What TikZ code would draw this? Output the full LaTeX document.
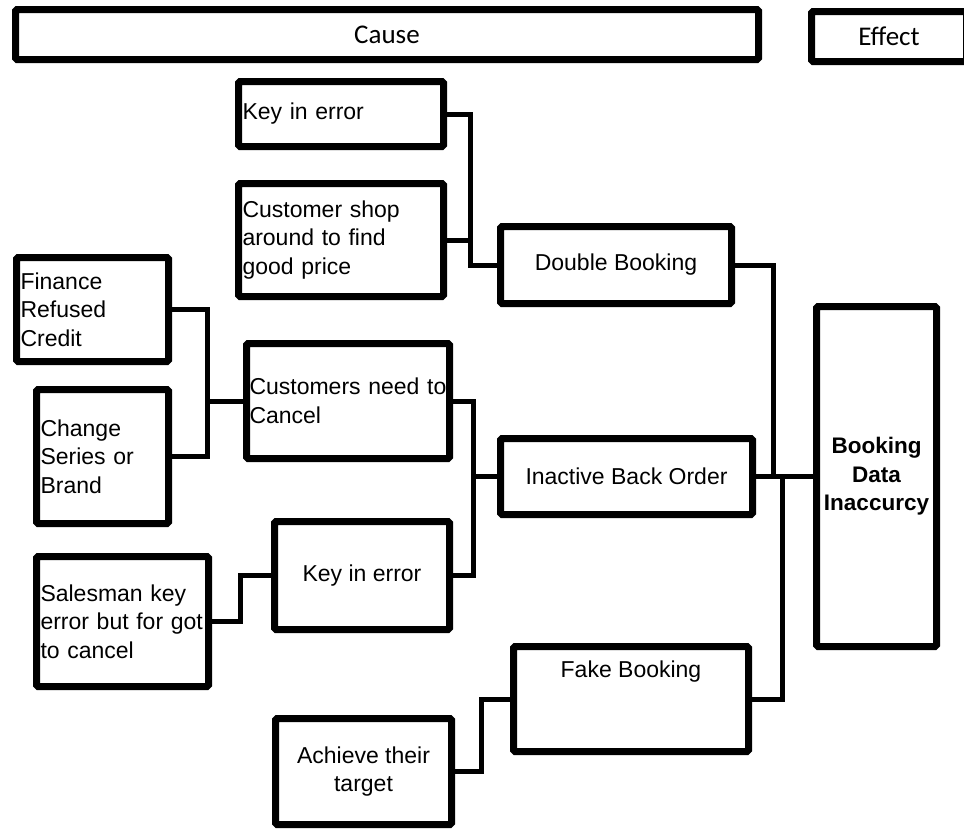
\documentclass[tikz,border=0pt]{standalone}
\usepackage{fontspec}
\setmainfont{Liberation Sans}
\newfontfamily\headfont{Carlito}
\begin{document}
\begin{tikzpicture}[x=1pt,y=-1pt,
  box/.style={draw=black,line width=7pt,rounded corners=1.5pt,inner sep=0pt,fill=white,
              font=\fontsize{23}{28.5}\selectfont},
  lbox/.style={box,align=left,inner xsep=4pt},
  cbox/.style={box,align=center},
  headbox/.style={box,font=\headfont\fontsize{27}{30}\selectfont},
  conn/.style={line width=5pt,line join=miter,line cap=rect}]
\useasboundingbox (0,0) rectangle (964,830);

% header boxes
\node[headbox,minimum width=743pt,minimum height=50pt] (cause) at (387,34.5) {Cause};
\node[headbox,minimum width=155pt,minimum height=50pt] (effect) at (889,36.5) {Effect};

% causes and sub-causes
\node[lbox,minimum width=205pt,minimum height=65pt,text width=197pt] (k1) at (341,114) {Key in error};
\node[lbox,minimum width=205pt,minimum height=113pt,text width=197pt] (shop) at (341,240)
  {Customer shop\\around to find\\good price};
\node[cbox,minimum width=231pt,minimum height=77pt] (dbl) at (616,265) {Double Booking};

\node[lbox,minimum width=152pt,minimum height=104pt,text width=144pt] (fin) at (92.5,309.5)
  {Finance\\Refused\\Credit};
\node[lbox,minimum width=132pt,minimum height=134pt,text width=124pt] (chg) at (102.5,456.5)
  {Change\\Series or\\Brand};
\node[lbox,minimum width=203pt,minimum height=115pt,inner xsep=3pt,text width=197pt] (cust) at (348,401)
  {Customers need to\\Cancel};
\node[cbox,minimum width=252pt,minimum height=76pt] (iba) at (626.5,476.5) {Inactive Back Order};

\node[lbox,minimum width=172pt,minimum height=130pt,text width=164pt] (sal) at (122.5,621.5)
  {Salesman key\\error but for got\\to cancel};
\node[cbox,minimum width=175pt,minimum height=108pt] (k2) at (362,575.5) {Key in error};

\node[box,minimum width=235pt,minimum height=105pt] (fake) at (631,699) {};
\node[font=\fontsize{23}{28.5}\selectfont,inner sep=0pt] (faketext) at (631,672) {Fake Booking};
\node[cbox,minimum width=176pt,minimum height=106pt] (ach) at (363.5,771.5) {Achieve their\\target};

% effect
\node[cbox,minimum width=120pt,minimum height=340pt,
      font=\bfseries\fontsize{22.5}{28.5}\selectfont] (bdi) at (876.5,476.5) {Booking\\Data\\Inaccurcy};

% junction columns
\coordinate (j1) at (470,0);
\coordinate (j2) at (207,0);
\coordinate (j3) at (473,0);
\coordinate (j4) at (240,0);
\coordinate (j5) at (481,0);
\coordinate (j6) at (773,0);
\coordinate (j7) at (782,0);

% connectors
\draw[conn] (k1.east) -| (j1|-dbl.west) -- (dbl.west);
\draw[conn] (shop.east) -- (j1|-shop.east);

\draw[conn] (fin.east) -| (j2|-chg.east) -- (chg.east);
\draw[conn] (j2|-cust.west) -- (cust.west);

\draw[conn] (cust.east) -| (j3|-k2.east) -- (k2.east);
\draw[conn] (j3|-iba.west) -- (iba.west);

\draw[conn] (sal.east) -| (j4|-k2.west) -- (k2.west);

\draw[conn] (ach.east) -| (j5|-fake.west) -- (fake.west);

\draw[conn] (dbl.east) -| (j6|-bdi.west) -- (bdi.west);
\draw[conn] (iba.east) -- (bdi.west);
\draw[conn] (fake.east) -| (j7|-bdi.west);
\end{tikzpicture}
\end{document}
